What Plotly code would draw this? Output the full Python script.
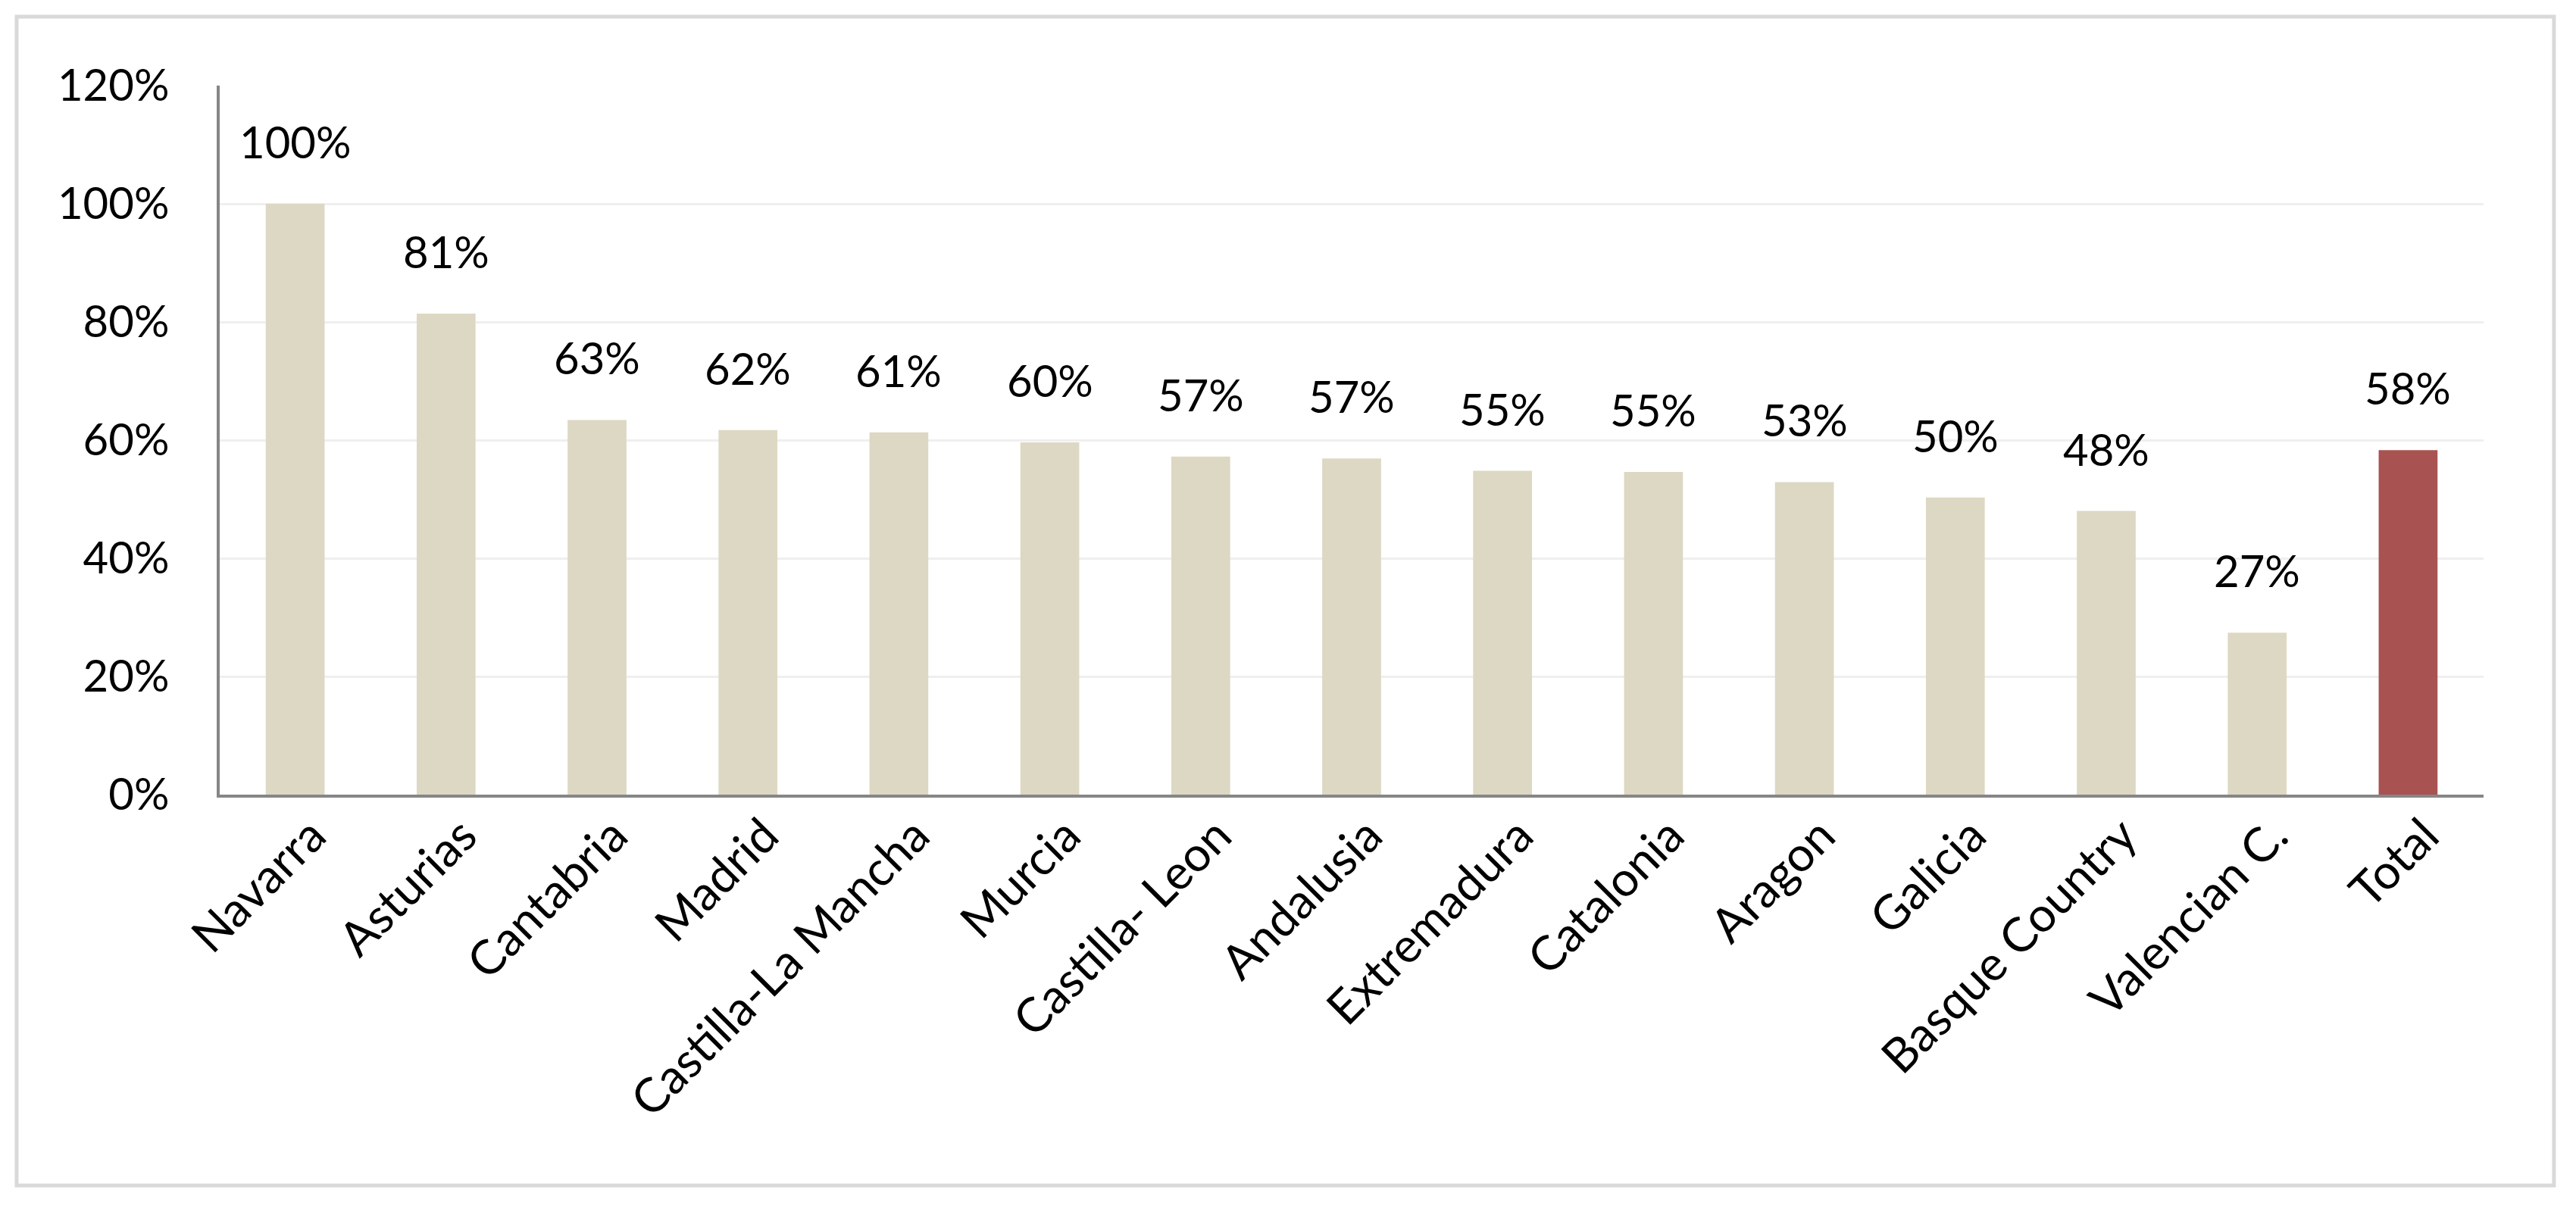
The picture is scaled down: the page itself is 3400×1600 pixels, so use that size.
import plotly.graph_objects as go

categories = ["Navarra", "Asturias", "Cantabria", "Madrid", "Castilla-La Mancha", "Murcia",
              "Castilla- Leon", "Andalusia", "Extremadura", "Catalonia", "Aragon", "Galicia",
              "Basque Country", "Valencian C.", "Total"]
values = [1.00, 0.814, 0.634, 0.617, 0.613, 0.596, 0.572, 0.569, 0.548, 0.546, 0.529, 0.503,
          0.480, 0.274, 0.583]
labels = ["100%", "81%", "63%", "62%", "61%", "60%", "57%", "57%", "55%", "55%", "53%", "50%",
          "48%", "27%", "58%"]
y_ticks = [0, 0.2, 0.4, 0.6, 0.8, 1.0, 1.2]
y_tick_text = ["0%", "20%", "40%", "60%", "80%", "100%", "120%"]

BEIGE = "#ddd8c3"
RED = "#a95252"
colors = [RED if c == "Total" else BEIGE for c in categories]
FONT = "Lato"
FS = 58

fig = go.Figure()
fig.add_trace(go.Bar(x=categories, y=values, marker=dict(color=colors, line=dict(width=0)),
                     hoverinfo="skip", showlegend=False))

for c, v, t in zip(categories, values, labels):
    fig.add_annotation(x=c, y=v, text=t, showarrow=False, yanchor="bottom", yshift=46,
                       font=dict(family=FONT, size=FS, color="#000000"))

# outer chart border
fig.add_shape(type="rect", xref="paper", yref="paper", x0=-0.0897, x1=1.0311, y0=-0.5513, y1=1.0972,
              line=dict(color="#d9d9d9", width=5), fillcolor="rgba(0,0,0,0)", layer="below")

fig.update_layout(
    width=3400, height=1600, autosize=False,
    margin=dict(l=282, r=130, t=105, b=559, pad=0),
    paper_bgcolor="white", plot_bgcolor="white",
    bargap=0.61,
    font=dict(family=FONT, size=FS, color="#000000"),
)
fig.update_xaxes(showline=True, linecolor="#868686", linewidth=4, ticks="", tickangle=-45,
                 ticklabelshift=22, ticklabelstandoff=-12,
                 tickfont=dict(family=FONT, size=63, color="#000000"), showgrid=False)
fig.update_yaxes(range=[0, 1.2], tickvals=y_ticks, ticktext=y_tick_text, showline=True,
                 linecolor="#868686", linewidth=4, gridcolor="#efefef", gridwidth=3,
                 zeroline=False, ticks="", ticklabelstandoff=51,
                 tickfont=dict(family=FONT, size=FS, color="#000000"))

fig.write_html("out.html")
